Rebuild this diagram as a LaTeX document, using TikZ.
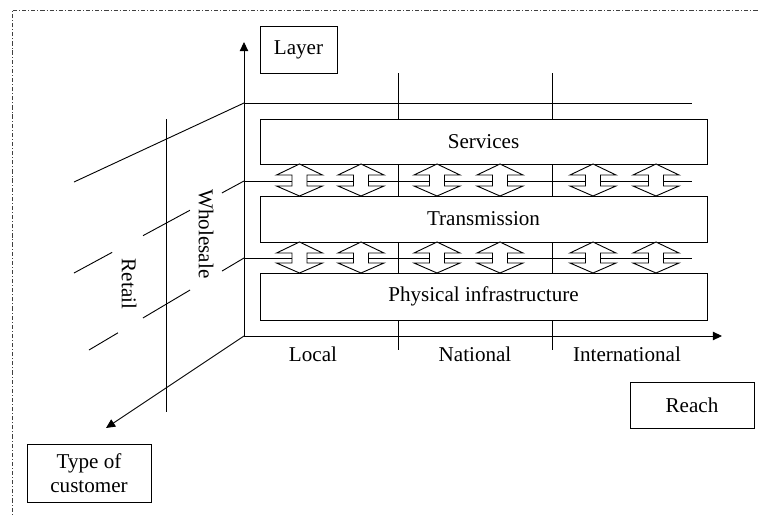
\documentclass[tikz,border=0pt]{standalone}
\usepackage{fontspec}
\setmainfont{Liberation Serif}
\usetikzlibrary{arrows.meta, calc}

\begin{document}
\begin{tikzpicture}[x=0.025cm, y=-0.025cm, line width=0.65pt,
	font=\fontsize{15}{17}\selectfont,
	box/.style={draw, fill=white, inner sep=0pt, align=center},
	txt/.style={inner sep=0pt},
	axis/.style={-{Triangle[length=6.5pt, width=6pt]}}]
	\def\u{0.025cm}
	\def\hw{23}
	\def\sw{7.5}
	\def\hl{11}

	\useasboundingbox (0,0) rectangle (758,515);
	\draw[black!75, dash pattern=on 3pt off 1.4pt on 0.7pt off 1.4pt] (12,530) -- (12,10) -- (770,10);

	\coordinate (o) at (244,336);
	\coordinate (top) at (244,103);
	\coordinate (r1) at (244,181);
	\coordinate (r2) at (244,258);
	\coordinate (layertip) at (244,42);
	\coordinate (reachtip) at (722,336);
	\coordinate (custtip) at (106,428);
	\coordinate (topend) at (692,103);
	\coordinate (r1end) at (692,181);
	\coordinate (r2end) at (692,258);
	\coordinate (topfar) at (74,182);
	\coordinate (d1) at (74,273);
	\coordinate (d2) at (89,350);

	\draw[axis]		(o) -- (layertip);
	\draw[axis]		(o) -- (reachtip);
	\draw[axis]		(o) -- (custtip);
	\draw			(top) -- (topend);
	\draw			(r1) -- (r1end);
	\draw			(r2) -- (r2end);
	\draw			(top) -- (topfar);
	\draw			(166,119) -- (166,412);
	\foreach \x in {398,552}
		\draw		(\x,73) -- (\x,350);
	\foreach \a/\b in {0/0.13, 0.318/0.594, 0.776/1}
		\draw		($(r1)!\a!(d1)$) -- ($(r1)!\b!(d1)$);
	\foreach \a/\b in {0/0.142, 0.348/0.652, 0.813/1}
		\draw		($(r2)!\a!(d2)$) -- ($(r2)!\b!(d2)$);

	\node[box, minimum width=447*\u, minimum height=45*\u] (serv) at (483.5,141.5) {Services};
	\node[box, minimum width=447*\u, minimum height=46*\u] (trans) at (483.5,219) {Transmission};
	\node[box, minimum width=447*\u, minimum height=47*\u] (phys) at (483.5,296.5) {Physical infrastructure};

	\foreach \y/\z in {164/196, 242/273}
		\foreach \c in {299.5,361,437,500,593,656}
			\draw[fill=white]	(\c,\y) -- (\c+\hw,\y+\hl) -- (\c+\sw,\y+\hl) -- (\c+\sw,\z-\hl+1) -- (\c+\hw,\z-\hl+1)
				-- (\c,\z) -- (\c-\hw,\z-\hl+1) -- (\c-\sw,\z-\hl+1) -- (\c-\sw,\y+\hl) -- (\c-\hw,\y+\hl) -- cycle;

	\node[box, minimum width=77*\u, minimum height=47*\u] (layer) at (298.5,49.5) {Layer};
	\node[box, minimum width=124*\u, minimum height=46*\u] (reach) at (692,405) {Reach};
	\node[box, minimum width=124*\u, minimum height=58*\u] (cust) at (89,473) {Type of\\customer};
	\node[txt] (local) at (313,354) {Local};
	\node[txt] (nat) at (475,354) {National};
	\node[txt] (intl) at (627,354) {International};
	\node[txt, rotate=-90] (whole) at (206,234) {Wholesale};
	\node[txt, rotate=-90] (retail) at (129,284) {Retail};
\end{tikzpicture}
\end{document}
